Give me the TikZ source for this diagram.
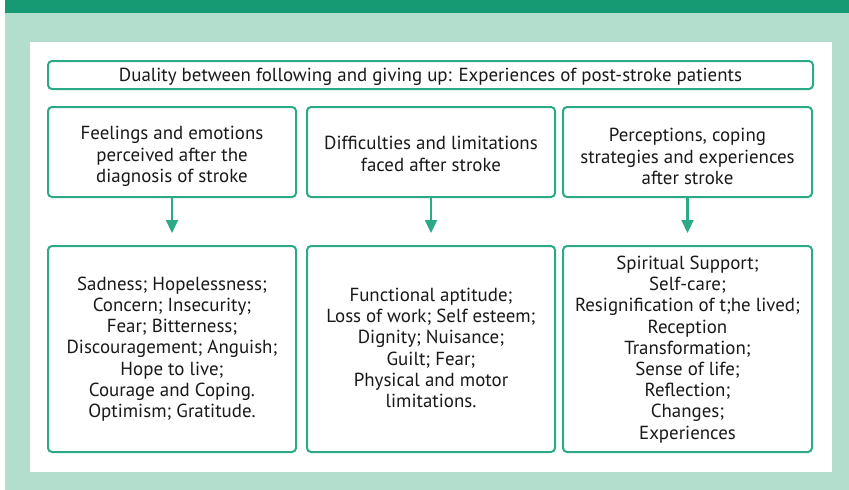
\documentclass[tikz,border=0pt]{standalone}
\usepackage{fontspec}
\setmainfont{PT Sans}
\usetikzlibrary{arrows.meta}
\definecolor{darkbar}{HTML}{159A74}
\definecolor{lightbg}{HTML}{B3DDCD}
\definecolor{boxline}{HTML}{2CA987}
\begin{document}
\begin{tikzpicture}[x=1pt,y=-1pt,
  gbox/.style={draw=boxline, line width=2pt, rounded corners=4pt, fill=white},
  btext/.style={align=center, font=\fontsize{18.9}{21.2}\selectfont, text=black!90, inner sep=0pt},
  garrow/.style={draw=boxline, line width=2.2pt, -{Triangle[length=13pt,width=12pt]}}]
\useasboundingbox (0,0) rectangle (849,490);
\fill[white] (0,0) rectangle (849,490);
\fill[lightbg] (5,13) rectangle (849,490);
\fill[darkbar] (5,0) rectangle (849,13);
\fill[white] (30,42) rectangle (832,472);
% title
\draw[gbox] (48,61) rectangle (813,89);
\node[btext] (title) at (430.5,76.5) {Duality between following and giving up: Experiences of post-stroke patients};
% top boxes
\draw[gbox] (48,107) rectangle (296,197);
\draw[gbox] (307,107) rectangle (555,197);
\draw[gbox] (563,107) rectangle (812,197);
\coordinate (t1) at (172,197);
\coordinate (t2) at (431,197);
\coordinate (t3) at (687.5,197);
\node[btext] (h1) at (172,156.5) {Feelings and emotions\\perceived after the\\diagnosis of stroke};
\node[btext] (h2) at (431,154) {Difficulties and limitations\\faced after stroke};
\node[btext] (h3) at (687.5,156.5) {Perceptions, coping\\strategies and experiences\\after stroke};
% bottom boxes
\draw[gbox] (48,246) rectangle (296,452);
\draw[gbox] (307,246) rectangle (555,452);
\draw[gbox] (563,246) rectangle (812,452);
\coordinate (b1) at (172,233);
\coordinate (b2) at (431,233);
\coordinate (b3) at (687.5,233);
\node[btext] (c1) at (172,349) {Sadness; Hopelessness;\\Concern; Insecurity;\\Fear; Bitterness;\\Discouragement; Anguish;\\Hope to live;\\Courage and Coping.\\Optimism; Gratitude.};
\node[btext] (c2) at (431,348) {Functional aptitude;\\Loss of work; Self esteem;\\Dignity; Nuisance;\\Guilt; Fear;\\Physical and motor\\limitations.};
\node[btext] (c3) at (687.5,349.5) {Spiritual Support;\\Self-care;\\Resignification of t;he lived;\\Reception\\Transformation;\\Sense of life;\\Reflection;\\Changes;\\Experiences};
% arrows
\draw[garrow] (t1) -- (b1);
\draw[garrow] (t2) -- (b2);
\draw[garrow] (t3) -- (b3);
\end{tikzpicture}
\end{document}
